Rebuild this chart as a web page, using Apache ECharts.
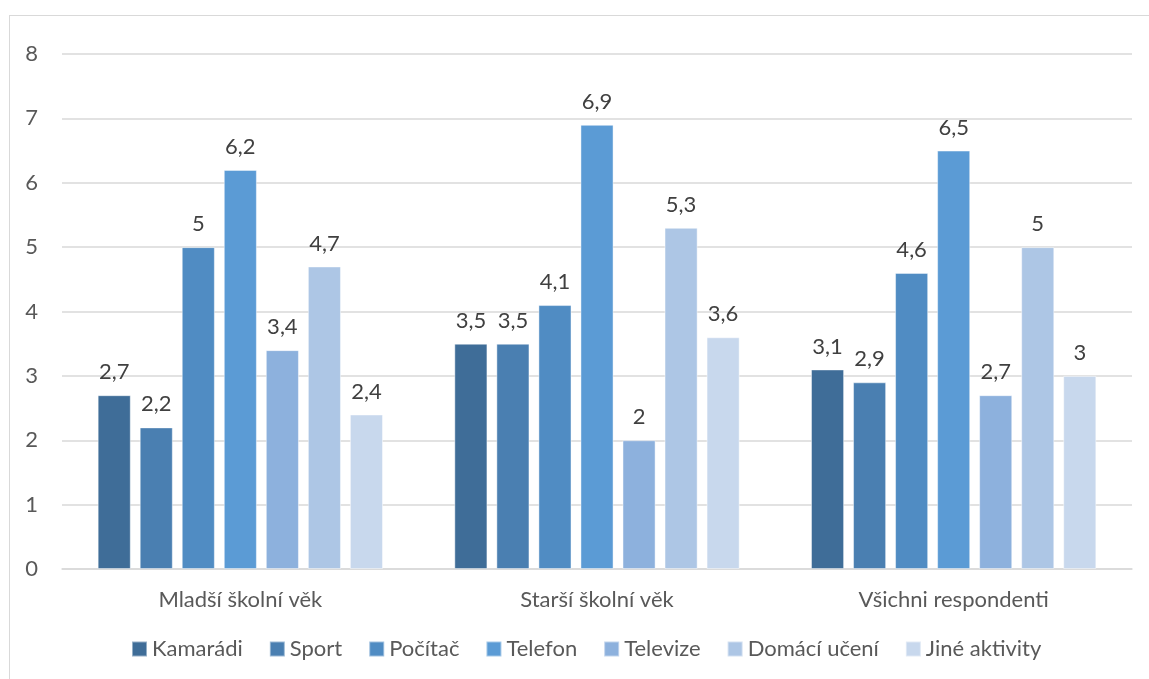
<!DOCTYPE html>
<html>
<head>
<meta charset="utf-8">
<script src="https://cdn.jsdelivr.net/npm/echarts@6/dist/echarts.min.js"></script>
<style>
  html, body { margin: 0; padding: 0; background: #fff; }
  #frame { position: absolute; left: 9px; top: 15px; width: 1160px; height: 700px; border: 1px solid #d9d9d9; box-sizing: border-box; }
  #chart { position: absolute; left: 0; top: 0; width: 1149px; height: 679px; }
</style>
</head>
<body>
<div id="frame"></div>
<div id="chart"></div>
<script>
const categories = ['Mladší školní věk', 'Starší školní věk', 'Všichni respondenti'];
const seriesNames = ['Kamarádi', 'Sport', 'Počítač', 'Telefon', 'Televize', 'Domácí učení', 'Jiné aktivity'];
const kamaradi = [2.7, 3.5, 3.1];
const sport = [2.2, 3.5, 2.9];
const pocitac = [5, 4.1, 4.6];
const telefon = [6.2, 6.9, 6.5];
const televize = [3.4, 2, 2.7];
const domaciUceni = [4.7, 5.3, 5];
const jineAktivity = [2.4, 3.6, 3];
const yTicks = [0, 8, 1];

const values = [kamaradi, sport, pocitac, telefon, televize, domaciUceni, jineAktivity];
const colors = ['#3f6d98', '#4a7fb1', '#508cc3', '#5b9bd5', '#8db1dd', '#adc6e5', '#c8d8ed'];
const FONT = 'Lato, "Open Sans", sans-serif';

const chart = echarts.init(document.getElementById('chart'), null, { renderer: 'canvas' });
chart.setOption({
  animation: false,
  backgroundColor: 'transparent',
  textStyle: { fontFamily: FONT },
  legend: {
    bottom: 14,
    left: 131,
    padding: [5, 0],
    itemWidth: 15,
    itemHeight: 15,
    itemGap: 26,
    icon: 'rect',
    textStyle: { fontSize: 22, color: '#595959', fontFamily: FONT },
    data: seriesNames
  },
  grid: { left: 62, right: 17, top: 54, bottom: 110, containLabel: false },
  xAxis: {
    type: 'category',
    data: categories,
    axisLine: { lineStyle: { color: '#d9d9d9', width: 1.5 } },
    axisTick: { show: false },
    axisLabel: { fontSize: 22, color: '#595959', margin: 20, fontFamily: FONT }
  },
  yAxis: {
    type: 'value',
    min: yTicks[0],
    max: yTicks[1],
    interval: yTicks[2],
    axisLine: { show: false },
    axisTick: { show: false },
    splitLine: { lineStyle: { color: '#d9d9d9', width: 1.5 } },
    axisLabel: { fontSize: 22, color: '#595959', margin: 24, fontFamily: FONT }
  },
  series: seriesNames.map((name, i) => ({
    name: name,
    type: 'bar',
    data: values[i],
    barGap: '27%',
    barCategoryGap: '20%',
    itemStyle: { color: colors[i], borderColor: 'rgba(255,255,255,0.45)', borderWidth: 1 },
    label: {
      show: true,
      position: 'top',
      distance: 12,
      fontSize: 22,
      color: '#404040',
      fontFamily: FONT,
      formatter: p => String(p.value).replace('.', ',')
    }
  }))
});
</script>
</body>
</html>
